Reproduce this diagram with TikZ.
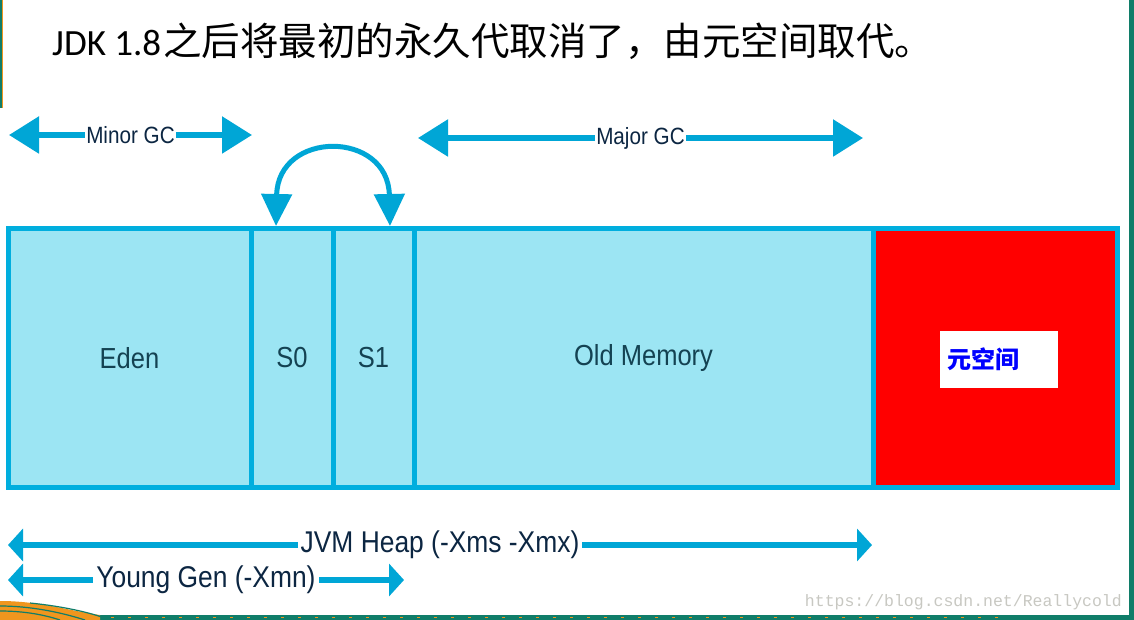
\documentclass[tikz,border=0pt]{standalone}
\usepackage{fontspec}
\setmainfont{Carlito}
\newfontfamily\cjk{Noto Sans CJK SC}
\newfontfamily\diag{Liberation Sans}[FakeStretch=0.88]
\newfontfamily\wmfont{Liberation Mono}
\usetikzlibrary{arrows.meta}
\definecolor{arrowblue}{RGB}{0,166,214}
\definecolor{boxblue}{RGB}{0,174,222}
\definecolor{cellfill}{RGB}{156,229,243}
\definecolor{celltext}{RGB}{20,66,82}
\definecolor{gctext}{RGB}{12,38,66}
\definecolor{edgeteal}{RGB}{16,125,105}
\definecolor{edgeorange}{RGB}{240,150,30}
\definecolor{wmgray}{RGB}{200,200,194}
\definecolor{metablue}{RGB}{0,0,255}
\tikzset{
  cell/.style={draw=boxblue, line width=5pt, fill=cellfill, text=celltext,
    font=\diag\fontsize{29}{34}\selectfont, minimum height=258pt, inner sep=0pt},
  gcarrow/.style={draw=arrowblue, line width=5.5pt,
    {Triangle[length=30pt,width=36pt]}-{Triangle[length=30pt,width=36pt]}},
  heaparrow/.style={draw=arrowblue, line width=6pt,
    {Triangle[length=15pt,width=32pt]}-{Triangle[length=15pt,width=32pt]}},
  swaparrow/.style={draw=arrowblue, line width=5pt,
    {Triangle[length=32pt,width=30pt]}-{Triangle[length=32pt,width=30pt]}},
  gclabel/.style={fill=white, text=gctext, inner xsep=1pt, inner ysep=0pt,
    font=\diag\fontsize{23.5}{27}\selectfont},
  heaplabel/.style={fill=white, text=gctext, inner xsep=3pt, inner ysep=0pt,
    font=\diag\fontsize{30}{34}\selectfont},
}
\begin{document}
\begin{tikzpicture}[x=1pt,y=-1pt]
\useasboundingbox (0,0) rectangle (1134,620);
\fill[white] (0,0) rectangle (1134,620);
% page edge decorations
\fill[edgeteal] (0,0) rectangle (3,108);
\draw[edgeorange, line width=0.8pt] (2,0) -- (2,108);
\fill[edgeteal] (1129,0) rectangle (1134,620);
\fill[edgeteal] (0,615) rectangle (1134,620);
\draw[edgeorange, line width=1pt, dash pattern=on 3pt off 14pt] (60,617.5) -- (1000,617.5);
\fill[edgeorange] (0,601) .. controls (40,601) and (70,611) .. (100,615) -- (100,620) -- (0,620) -- cycle;
\draw[edgeteal, line width=1.2pt] (0,606) .. controls (30,606) and (60,612) .. (85,620);
\draw[edgeteal, line width=1.2pt] (0,611) .. controls (25,611) and (45,615) .. (60,620);
\draw[edgeteal, line width=1.2pt] (30,603) .. controls (60,606) and (90,612) .. (110,620);

% title
\node[anchor=base west, inner sep=0pt, font=\fontsize{37}{44}\selectfont] (title) at (52,56)
  {JDK 1.8\hspace{2pt}{\cjk\fontsize{38.5}{44}\selectfont 之后将最初的永久代取消了，由元空间取代。}};

% heap cells
\node[cell, minimum width=243pt] (eden) at (129.5,358) {Eden};
\node[cell, minimum width=82pt]  (s0)   at (292,358)   {S0};
\node[cell, minimum width=81pt]  (s1)   at (373.5,358) {S1};
\node[cell, minimum width=459pt] (old)  at (643.5,358) {Old Memory};
\node[draw=boxblue, line width=5pt, fill=red, minimum width=244pt, minimum height=258pt] (meta) at (995,358) {};
\node[fill=white, minimum width=118pt, minimum height=57pt, text width=104pt, inner xsep=7pt,
  align=left, text=metablue, font=\cjk\bfseries\fontsize{24}{28}\selectfont] (metalabel) at (999,359.5) {元空间};

% Minor GC
\coordinate (minorL) at (9,135);
\coordinate (minorR) at (252,135);
\draw[gcarrow] (minorL) -- node[gclabel] (minorlabel) {Minor GC} (minorR);
% Major GC
\coordinate (majorL) at (418,138);
\coordinate (majorR) at (863,138);
\draw[gcarrow] (majorL) -- node[gclabel] (majorlabel) {Major GC} (majorR);

% S0 <-> S1 swap
\coordinate (s0tip) at (276,226);
\coordinate (s1tip) at (390,226);
\draw[swaparrow] (s0tip) .. controls (278,130) and (388,130) .. (s1tip);

% JVM heap
\coordinate (heapL) at (8,545);
\coordinate (heapR) at (872,545);
\draw[heaparrow] (heapL) -- node[heaplabel] (heaplabel) {JVM Heap (-Xms -Xmx)} (heapR);
% Young gen
\coordinate (youngL) at (8,580);
\coordinate (youngR) at (404,580);
\draw[heaparrow] (youngL) -- node[heaplabel] (younglabel) {Young Gen (-Xmn)} (youngR);

% watermark
\node[anchor=base east, inner sep=0pt, text=wmgray, font=\wmfont\fontsize{16.5}{20}\selectfont] (wm) at (1122,606)
  {https://blog.csdn.net/Reallycold};
\end{tikzpicture}
\end{document}
